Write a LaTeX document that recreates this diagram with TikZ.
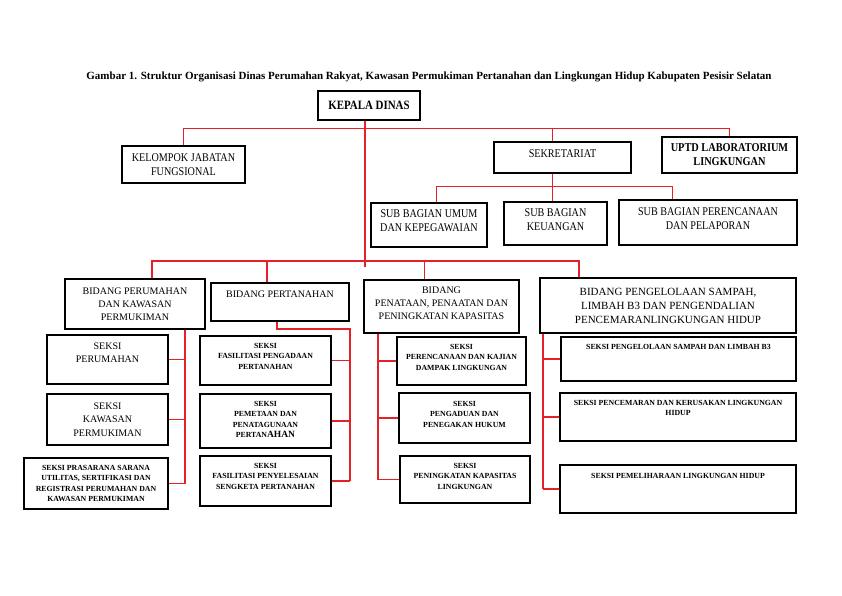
\documentclass[tikz,border=0pt]{standalone}
\usepackage{fontspec}
\setmainfont{Liberation Serif}
\newfontfamily\condfont[FakeStretch=0.86]{Liberation Serif}
\usetikzlibrary{calc}
\definecolor{orgred}{RGB}{228,32,40}

\newcommand{\titlefont}{\bfseries\fontsize{11}{13}\selectfont}
\newcommand{\upfont}{\condfont\fontsize{11.8}{14}\selectfont}
\newcommand{\upboldfont}{\condfont\bfseries\fontsize{12}{14}\selectfont}
\newcommand{\bidfont}{\fontsize{10}{13}\selectfont}
\newcommand{\bigbidfont}{\fontsize{11}{14}\selectfont}
\newcommand{\seksifont}{\bfseries\fontsize{7.8}{10.5}\selectfont}

\begin{document}
\begin{tikzpicture}[x=1pt,y=-1pt,
    box/.style={draw, line width=2pt, align=center, inner sep=2pt},
    boxsize/.style 2 args={minimum width=#1, minimum height=#2},
    intop/.style n args={3}{label={[anchor=north, align=center, inner sep=0pt, yshift=-#2, font=#3]north:{#1}}},
    link/.style={draw=orgred, line width=1.2pt},
    thinlink/.style={draw=orgred, line width=0.9pt}
  ]
    \useasboundingbox (0,0) rectangle (842,595);

    \node[font=\titlefont] (title) at (429,77) {Gambar 1. Struktur Organisasi Dinas Perumahan Rakyat, Kawasan Permukiman Pertanahan dan Lingkungan Hidup Kabupaten Pesisir Selatan};

    % pimpinan dan unsur pembantu
    \node[box, boxsize={102pt}{29pt}, font=\condfont\bfseries\fontsize{12.7}{14}\selectfont] (kepala) at (369,105.5) {KEPALA DINAS};
    \node[box, boxsize={123pt}{37pt}, font=\upfont] (kelompok) at (183.5,164.5) {KELOMPOK JABATAN\\FUNGSIONAL};
    \node[box, boxsize={137pt}{31pt}, intop={SEKRETARIAT}{8pt}{\upfont}] (sekretariat) at (562.5,157.5) {};
    \node[box, boxsize={135pt}{36pt}, font=\upboldfont] (uptd) at (729.5,155) {UPTD LABORATORIUM\\LINGKUNGAN};
    \node[box, boxsize={116pt}{44pt}, intop={SUB BAGIAN UMUM\\DAN KEPEGAWAIAN}{7pt}{\upfont}] (subumum) at (429,225) {};
    \node[box, boxsize={103pt}{43pt}, intop={SUB BAGIAN\\KEUANGAN}{7pt}{\upfont}] (subkeu) at (555.5,223.5) {};
    \node[box, boxsize={178pt}{45pt}, intop={SUB BAGIAN PERENCANAAN\\DAN PELAPORAN}{8pt}{\upfont}] (subrenc) at (708,222.5) {};

    % bidang
    \node[box, boxsize={140pt}{50pt}, font=\bidfont] (perumahan) at (135,304) {BIDANG PERUMAHAN\\DAN KAWASAN\\PERMUKIMAN};
    \node[box, boxsize={138pt}{38pt}, intop={BIDANG PERTANAHAN}{9pt}{\bidfont}] (pertanahan) at (280,302) {};
    \node[box, boxsize={155pt}{53pt}, intop={BIDANG\\PENATAAN, PENAATAN DAN\\PENINGKATAN KAPASITAS}{8pt}{\bidfont}] (penataan) at (441.5,306.5) {};
    \node[box, boxsize={256pt}{55pt}, font=\bigbidfont] (pengelolaan) at (668,305.5) {BIDANG PENGELOLAAN SAMPAH,\\LIMBAH B3 DAN PENGENDALIAN\\PENCEMARANLINGKUNGAN HIDUP};

    % seksi
    \node[box, boxsize={121pt}{49pt}, intop={SEKSI\\PERUMAHAN}{9pt}{\bidfont}] (sperumahan) at (107.5,359.5) {};
    \node[box, boxsize={121pt}{51pt}, font=\fontsize{10}{13.5}\selectfont] (skawasan) at (107.5,419.5) {SEKSI\\KAWASAN\\PERMUKIMAN};
    \node[box, boxsize={144pt}{51pt}, font=\seksifont] (sprasarana) at (96,483.5) {SEKSI PRASARANA SARANA\\UTILITAS, SERTIFIKASI DAN\\REGISTRASI PERUMAHAN DAN\\KAWASAN PERMUKIMAN};

    \node[box, boxsize={131pt}{49pt}, intop={SEKSI\\FASILITASI PENGADAAN\\PERTANAHAN}{8pt}{\seksifont}] (sfasil) at (265.5,360.5) {};
    \node[box, boxsize={131pt}{54pt}, intop={SEKSI\\PEMETAAN DAN\\PENATAGUNAAN\\PERTAN{\fontsize{9.5}{10}\selectfont AHAN}}{8pt}{\seksifont}] (spemetaan) at (265.5,421) {};
    \node[box, boxsize={131pt}{50pt}, intop={SEKSI\\FASILITASI PENYELESAIAN\\SENGKETA PERTANAHAN}{8pt}{\seksifont}] (spenyelesaian) at (265.5,481) {};

    \node[box, boxsize={129pt}{48pt}, intop={SEKSI\\PERENCANAAN DAN KAJIAN\\DAMPAK LINGKUNGAN}{8pt}{\seksifont}] (sperencanaan) at (461.5,361) {};
    \node[box, boxsize={131pt}{50pt}, intop={SEKSI\\PENGADUAN DAN\\PENEGAKAN HUKUM}{9pt}{\seksifont}] (spengaduan) at (464.5,418) {};
    \node[box, boxsize={130pt}{47pt}, intop={SEKSI\\PENINGKATAN KAPASITAS\\LINGKUNGAN}{8pt}{\seksifont}] (speningkatan) at (465,479.5) {};

    \node[box, boxsize={235pt}{44pt}, intop={SEKSI PENGELOLAAN SAMPAH DAN LIMBAH B3}{8pt}{\seksifont}] (ssampah) at (678.5,359) {};
    \node[box, boxsize={236pt}{48pt}, intop={SEKSI PENCEMARAN DAN KERUSAKAN LINGKUNGAN\\HIDUP}{8pt}{\seksifont}] (spencemaran) at (678,417) {};
    \node[box, boxsize={236pt}{48pt}, intop={SEKSI PEMELIHARAAN LINGKUNGAN HIDUP}{9pt}{\seksifont}] (spemeliharaan) at (678,489) {};

    % garis komando atas
    \coordinate (bus1) at (365,128);
    \coordinate (bus2) at (365,261);
    \coordinate (bussub) at (552,186);
    \coordinate (kd-bot) at ($(kepala.south)+(-4,0)$);
    \coordinate (sek-top) at ($(sekretariat.north)+(-10,0)$);
    \coordinate (sek-bot) at ($(sekretariat.south)+(-10,0)$);
    \coordinate (umum-top) at ($(subumum.north)+(7,0)$);
    \coordinate (renc-top) at ($(subrenc.north)+(-36,0)$);

    \draw[link] (kd-bot) -- ($(bus2)+(0,6)$);
    \draw[thinlink] (kelompok.north) |- (uptd.north |- bus1) -- (uptd.north);
    \draw[thinlink] (sek-top |- bus1) -- (sek-top);
    \draw[thinlink] (sek-bot) -- (sek-bot |- subkeu.north);
    \draw[thinlink] (umum-top) |- (renc-top |- bussub) -- (renc-top);

    % garis komando bidang
    \coordinate (pr-top) at ($(perumahan.north)+(17,0)$);
    \coordinate (pt-top) at ($(pertanahan.north)+(-13,0)$);
    \coordinate (pn-top) at ($(penataan.north)+(-17,0)$);
    \coordinate (pg-top) at ($(pengelolaan.north west)+(40,0)$);

    \draw[link] (pr-top) |- (bus2) -| (pg-top);
    \draw[link] (pt-top |- bus2) -- (pt-top);
    \draw[link] (pn-top |- bus2) -- (pn-top);

    % garis bidang ke seksi
    \coordinate (pr-trunk) at ($(perumahan.south east)+(-21,0)$);
    \draw[link] (pr-trunk) -- (pr-trunk |- sprasarana.east);
    \foreach \s in {sperumahan,skawasan,sprasarana} {\draw[link] (\s.east) -- (\s.east -| pr-trunk);};

    \coordinate (pt-bend) at ($(pertanahan.south east)+(0,7)$);
    \draw[link] ($(pertanahan.south)+(-3,0)$) |- (pt-bend) -- (pt-bend |- spenyelesaian.east);
    \foreach \s in {sfasil,spemetaan,spenyelesaian} {\draw[link] (\s.east) -- (\s.east -| pt-bend);};

    \coordinate (pn-trunk) at ($(penataan.south west)+(15,0)$);
    \draw[link] (pn-trunk) -- (pn-trunk |- speningkatan.west);
    \foreach \s in {sperencanaan,spengaduan,speningkatan} {\draw[link] (\s.west) -- (\s.west -| pn-trunk);};

    \coordinate (pg-trunk) at ($(pengelolaan.south west)+(4,0)$);
    \draw[link] (pg-trunk) -- (pg-trunk |- spemeliharaan.west);
    \foreach \s in {ssampah,spencemaran,spemeliharaan} {\draw[link] (\s.west) -- (\s.west -| pg-trunk);};
\end{tikzpicture}
\end{document}
